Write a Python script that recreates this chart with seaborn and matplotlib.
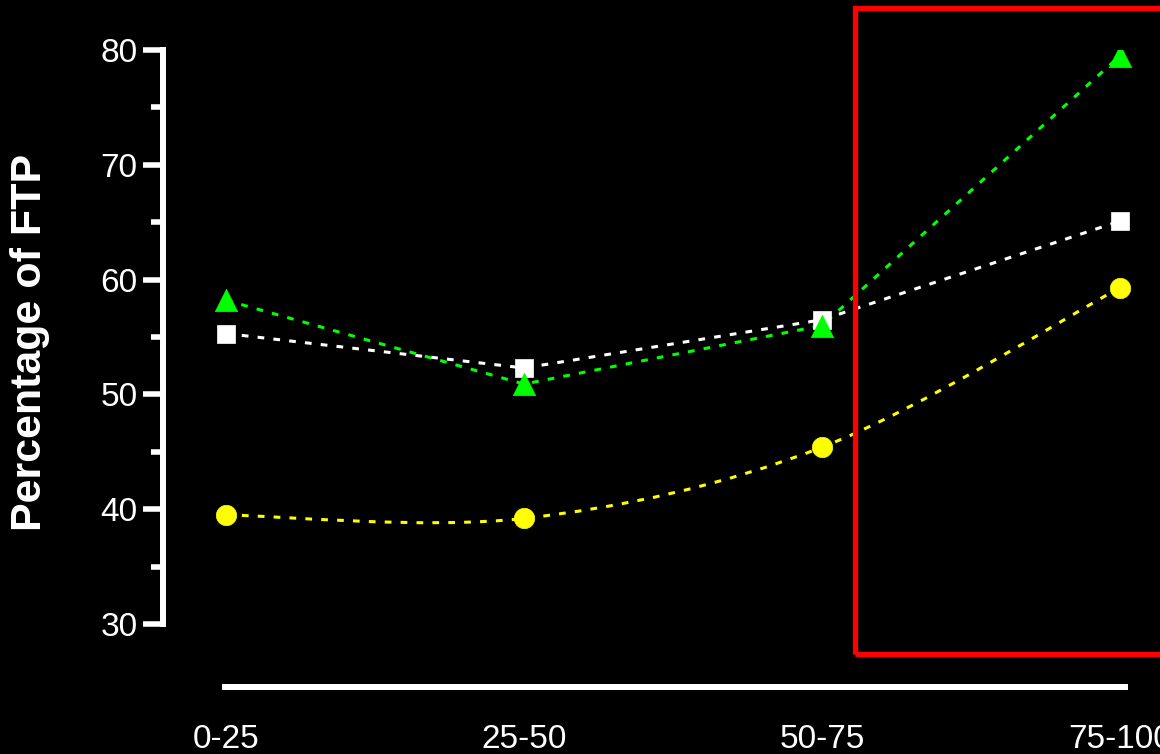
import numpy as np
import pandas as pd
import matplotlib
matplotlib.use("Agg")
import matplotlib.pyplot as plt
from matplotlib.path import Path
from matplotlib.patches import PathPatch, Rectangle
from matplotlib.ticker import MultipleLocator
import seaborn as sns

categories = ["0-25", "25-50", "50-75", "75-100"]
yellow_vals = [39.5, 39.2, 45.4, 59.3]
white_vals = [55.3, 52.3, 56.5, 65.1]
green_vals = [58.2, 50.9, 56.0, 79.5]

# highlighted region (data units)
box_x0, box_x1 = 2.11, 3.5
box_y0, box_y1 = 27.4, 83.7

sns.set_style("white")
plt.rcParams["font.family"] = ["Liberation Sans", "DejaVu Sans"]


def smooth_path(xs, ys):
    # catmull-rom through the points, drawn as bezier segments
    pts = np.column_stack([xs, ys]).astype(float)
    ext = np.vstack([pts[0], pts, pts[-1]])
    verts = [pts[0]]
    codes = [Path.MOVETO]
    for i in range(len(pts) - 1):
        p0, p1, p2, p3 = ext[i], ext[i + 1], ext[i + 2], ext[i + 3]
        verts += [p1 + (p2 - p0) / 6, p2 - (p3 - p1) / 6, p2]
        codes += [Path.CURVE4] * 3
    return Path(verts, codes)


def straight_path(xs, ys):
    pts = np.column_stack([xs, ys]).astype(float)
    return Path(pts)


fig = plt.figure(figsize=(11.6, 7.54), dpi=100, facecolor="black")
ax = fig.add_axes([163 / 1160, 1 - 624 / 754, 1 - 163 / 1160, 574 / 754])
ax.set_facecolor("black")

x = np.arange(len(categories))
series = [
    ("yellow", yellow_vals, "#ffff00", "o", 215, True),
    ("white", white_vals, "#ffffff", "s", 175, False),
    ("green", green_vals, "#00ff00", "^", 260, False),
]

for name, vals, color, marker, size, curved in series:
    path = smooth_path(x, vals) if curved else straight_path(x, vals)
    ax.add_patch(PathPatch(path, fill=False, edgecolor=color, lw=2.2,
                           linestyle=(0, (2.2, 3.0)), zorder=2))

for name, vals, color, marker, size, curved in series:
    df = pd.DataFrame({"x": x, "y": vals})
    sns.scatterplot(data=df, x="x", y="y", ax=ax, color=color, marker=marker,
                    s=size, edgecolor=color, linewidth=0.5, zorder=3)

ax.add_patch(Rectangle((box_x0, box_y0), box_x1 - box_x0, box_y1 - box_y0,
                       fill=False, edgecolor="#ff0000", lw=3.8, clip_on=False,
                       zorder=4))

ax.set_xlim(-0.2114, 3.134)
ax.set_ylim(30, 80)
ax.set_xticks(x)
ax.set_xticklabels(categories)
ax.yaxis.set_major_locator(MultipleLocator(10))
ax.yaxis.set_minor_locator(MultipleLocator(5))
ax.set_xlabel("")
ax.set_ylabel("")

for side in ["top", "right"]:
    ax.spines[side].set_visible(False)
ax.spines["left"].set_color("white")
ax.spines["left"].set_linewidth(4.3)
ax.spines["left"].set_bounds(30, 80)
ax.spines["bottom"].set_color("white")
ax.spines["bottom"].set_linewidth(4.3)
ax.spines["bottom"].set_position(("outward", 45))
ax.spines["bottom"].set_bounds(-0.005, 3.015)

ax.tick_params(axis="y", which="both", left=True, direction="out", width=4.0,
               color="white")
ax.tick_params(axis="y", which="major", length=14.4, labelcolor="white",
               labelsize=24, pad=4)
ax.tick_params(axis="y", which="minor", length=8.6)
ax.tick_params(axis="x", bottom=False, length=0, labelcolor="white",
               labelsize=24, pad=27)

fig.text(30 / 1160, 1 - 342 / 754, "Percentage of FTP", rotation=90,
         ha="center", va="center", color="white", fontsize=31, fontweight="bold")

fig.savefig("out.png", dpi=100, facecolor="black")
